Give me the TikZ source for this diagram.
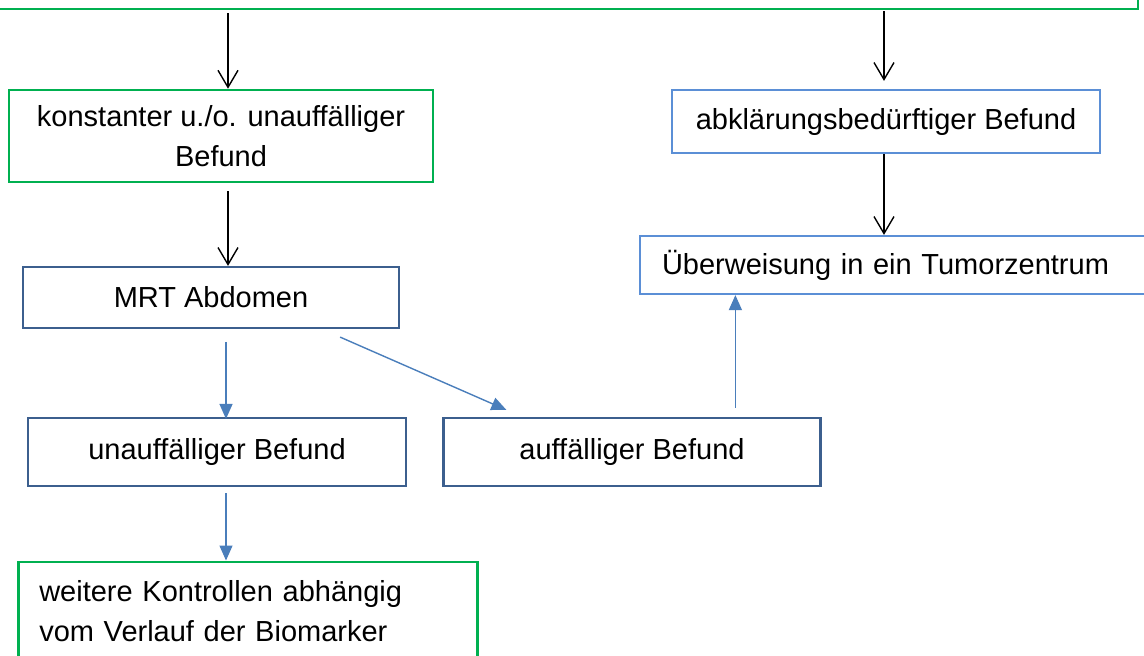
\documentclass[tikz,border=0pt]{standalone}
\usepackage{fontspec}
\setmainfont{Liberation Sans}
\usetikzlibrary{arrows.meta,calc}
\definecolor{wgreen}{HTML}{00B050}
\definecolor{lblue}{HTML}{5B8FD6}
\definecolor{dblue}{HTML}{3C5F8E}
\definecolor{ablue}{HTML}{4A7EBB}
\begin{document}
\begin{tikzpicture}[x=1pt,y=-1pt,
  box/.style={draw,rectangle,inner sep=0pt,align=center,font=\fontsize{29}{40}\selectfont},
  gbox/.style={box,draw=wgreen,line width=2.6pt},
  lbbox/.style={box,draw=lblue,line width=2.2pt},
  dbbox/.style={box,draw=dblue,line width=2.2pt},
  karrow/.style={line width=1.4pt,-{Straight Barb[length=17pt,width=20pt,line width=1.4pt]}},
  barrow/.style={draw=ablue,line width=1.4pt,-{Triangle[length=15pt,width=13pt]},ablue}]
\useasboundingbox (0,0) rectangle (1144,656);
\fill[white] (0,0) rectangle (1144,656);
% top box
\node[gbox,minimum width=1168,minimum height=70] (top) at (554,-26) {};
\node[gbox,minimum width=424,minimum height=92] (kon) at (221,136) {konstanter u./o. unauffälliger\\Befund};
\node[lbbox,minimum width=428,minimum height=63] (abk) at (886,121.5) {abklärungsbedürftiger Befund};
\node[lbbox,minimum height=58,text width=476,inner xsep=22pt,align=left] (ueb) at (900,265) {Überweisung in ein Tumorzentrum};
\node[dbbox,minimum width=376,minimum height=61] (mrt) at (211,297.5) {MRT Abdomen};
\node[dbbox,minimum width=378,minimum height=68] (una) at (217,452) {unauffälliger Befund};
\node[dbbox,minimum width=377,minimum height=68] (auf) at (632,452) {auffälliger Befund};
\node[gbox,text width=417,inner xsep=21pt,inner ysep=19pt,align=left,anchor=north west] (wei) at (17,560.5) {weitere Kontrollen abhängig\\vom Verlauf der Biomarker\\\strut};
% black arrows
\coordinate (k1) at ([xshift=7]kon.north |- top.south);
\draw[karrow] (k1) ++(0,3) -- (kon.north -| k1);
\coordinate (k2) at ([xshift=-2]abk.north |- top.south);
\draw[karrow] (k2) ++(0,1) -- ([yshift=8]abk.north -| k2);
\coordinate (k3) at ([xshift=7]kon.south);
\draw[karrow] (k3) ++(0,8) -- (mrt.north -| k3);
\coordinate (k4) at ([xshift=-2]abk.south);
\draw[karrow] (k4) -- (ueb.north -| k4);
% blue arrows
\coordinate (b1) at ([xshift=9]una.north);
\draw[barrow] (b1) ++(0,-75) -- ([yshift=-2]b1);
\draw[barrow] ($(mrt.south east)+(-60,8)$) -- ($(auf.north west)+(64,-7)$);
\coordinate (b3) at ($(auf.north west)+(293,-9)$);
\draw[barrow] (b3) -- (ueb.south -| b3);
\coordinate (b4) at ([xshift=9]una.south);
\draw[barrow] (b4) ++(0,6) -- (wei.north -| b4);
\end{tikzpicture}
\end{document}
